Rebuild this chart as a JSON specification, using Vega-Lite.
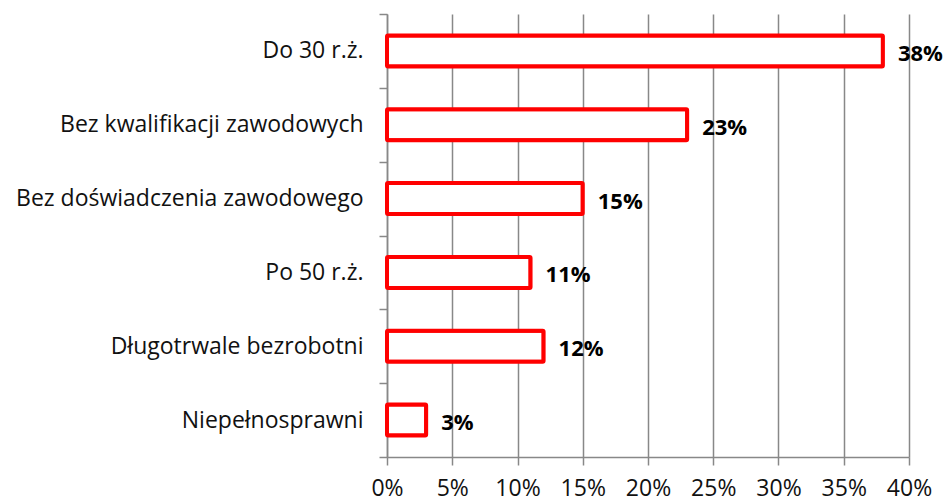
{
  "$schema": "https://vega.github.io/schema/vega-lite/v6.json",
  "width": 522,
  "height": 443,
  "autosize": "none",
  "padding": {"left": 387, "top": 14, "right": 38, "bottom": 45},
  "background": "white",
  "config": {
    "view": {"stroke": null},
    "font": "Open Sans"
  },
  "data": {
    "values": [
      {"kategoria": "Do 30 r.ż.", "udzial": 0.38, "etykieta": "38%"},
      {"kategoria": "Bez kwalifikacji zawodowych", "udzial": 0.23, "etykieta": "23%"},
      {"kategoria": "Bez doświadczenia zawodowego", "udzial": 0.15, "etykieta": "15%"},
      {"kategoria": "Po 50 r.ż.", "udzial": 0.11, "etykieta": "11%"},
      {"kategoria": "Długotrwale bezrobotni", "udzial": 0.12, "etykieta": "12%"},
      {"kategoria": "Niepełnosprawni", "udzial": 0.03, "etykieta": "3%"}
    ]
  },
  "encoding": {
    "y": {
      "field": "kategoria",
      "type": "nominal",
      "sort": null,
      "scale": {"paddingInner": 0, "paddingOuter": 0},
      "axis": {
        "title": null,
        "tickBand": "extent",
        "domainColor": "#888888",
        "domainWidth": 1.5,
        "tickColor": "#888888",
        "tickWidth": 1.5,
        "tickSize": 8,
        "labelPadding": 16,
        "labelFontSize": 23,
        "labelColor": "#111111",
        "labelFont": "Open Sans",
        "labelLimit": 400
      }
    },
    "x": {
      "field": "udzial",
      "type": "quantitative",
      "scale": {"domain": [0, 0.4], "nice": false},
      "axis": {
        "title": null,
        "values": [0, 0.05, 0.1, 0.15, 0.2, 0.25, 0.3, 0.35, 0.4],
        "format": ".0%",
        "grid": true,
        "gridColor": "#888888",
        "gridWidth": 1.5,
        "domainColor": "#888888",
        "domainWidth": 1.5,
        "tickColor": "#888888",
        "tickWidth": 1.5,
        "tickSize": 8,
        "labelPadding": 12,
        "labelFontSize": 23,
        "labelColor": "#111111",
        "labelFont": "Open Sans",
        "labelFlush": false
      }
    }
  },
  "layer": [
    {
      "mark": {"type": "bar", "fill": "white", "stroke": "#ff0000", "strokeWidth": 4, "cornerRadius": 1, "height": {"band": 0.42}}
    },
    {
      "mark": {"type": "text", "align": "left", "baseline": "middle", "dx": 15, "dy": 3, "fontWeight": "bold", "fontSize": 22, "font": "Open Sans", "color": "#000000"},
      "encoding": {"text": {"field": "etykieta"}}
    }
  ]
}
